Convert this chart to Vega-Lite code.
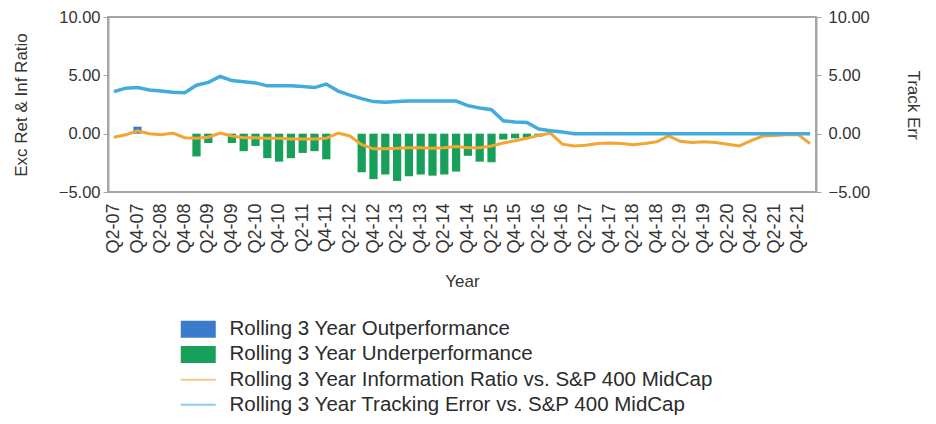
{
  "$schema": "https://vega.github.io/schema/vega-lite/v6.json",
  "width": 708,
  "height": 175,
  "autosize": {"type": "none"},
  "padding": {"left": 108, "top": 17, "right": 120, "bottom": 232},
  "background": "white",
  "config": {
    "font": "Liberation Sans",
    "view": {"stroke": "#a6a6a6", "strokeWidth": 2},
    "axis": {
      "grid": false,
      "domainColor": "#a6a6a6",
      "domainWidth": 2,
      "tickColor": "#a6a6a6",
      "labelColor": "#333333",
      "titleColor": "#333333",
      "titleFontWeight": "normal"
    },
    "legend": {
      "orient": "none",
      "legendX": 80,
      "legendY": 302,
      "padding": 0,
      "title": null,
      "labelFontSize": 20.5,
      "labelColor": "#2b2b2b",
      "labelLimit": 0,
      "symbolSize": 400,
      "labelOffset": 21,
      "rowPadding": 4.2
    }
  },
  "datasets": {
    "bars": [
      {"q": "Q4-07", "s": "Rolling 3 Year Outperformance", "v": 0.6},
      {"q": "Q1-09", "s": "Rolling 3 Year Underperformance", "v": -1.95},
      {"q": "Q2-09", "s": "Rolling 3 Year Underperformance", "v": -0.8},
      {"q": "Q4-09", "s": "Rolling 3 Year Underperformance", "v": -0.8},
      {"q": "Q1-10", "s": "Rolling 3 Year Underperformance", "v": -1.5},
      {"q": "Q2-10", "s": "Rolling 3 Year Underperformance", "v": -1.05},
      {"q": "Q3-10", "s": "Rolling 3 Year Underperformance", "v": -2.1},
      {"q": "Q4-10", "s": "Rolling 3 Year Underperformance", "v": -2.4},
      {"q": "Q1-11", "s": "Rolling 3 Year Underperformance", "v": -2.1},
      {"q": "Q2-11", "s": "Rolling 3 Year Underperformance", "v": -1.65},
      {"q": "Q3-11", "s": "Rolling 3 Year Underperformance", "v": -1.5},
      {"q": "Q4-11", "s": "Rolling 3 Year Underperformance", "v": -2.2},
      {"q": "Q3-12", "s": "Rolling 3 Year Underperformance", "v": -3.3},
      {"q": "Q4-12", "s": "Rolling 3 Year Underperformance", "v": -3.9},
      {"q": "Q1-13", "s": "Rolling 3 Year Underperformance", "v": -3.5},
      {"q": "Q2-13", "s": "Rolling 3 Year Underperformance", "v": -4.05},
      {"q": "Q3-13", "s": "Rolling 3 Year Underperformance", "v": -3.65},
      {"q": "Q4-13", "s": "Rolling 3 Year Underperformance", "v": -3.5},
      {"q": "Q1-14", "s": "Rolling 3 Year Underperformance", "v": -3.6},
      {"q": "Q2-14", "s": "Rolling 3 Year Underperformance", "v": -3.5},
      {"q": "Q3-14", "s": "Rolling 3 Year Underperformance", "v": -3.25},
      {"q": "Q4-14", "s": "Rolling 3 Year Underperformance", "v": -1.9},
      {"q": "Q1-15", "s": "Rolling 3 Year Underperformance", "v": -2.4},
      {"q": "Q2-15", "s": "Rolling 3 Year Underperformance", "v": -2.45},
      {"q": "Q3-15", "s": "Rolling 3 Year Underperformance", "v": -0.5},
      {"q": "Q4-15", "s": "Rolling 3 Year Underperformance", "v": -0.4},
      {"q": "Q1-16", "s": "Rolling 3 Year Underperformance", "v": -0.35},
      {"q": "Q2-16", "s": "Rolling 3 Year Underperformance", "v": -0.25}
    ],
    "lines": [
      {"q": "Q2-07", "ir": -0.3, "te": 3.6},
      {"q": "Q3-07", "ir": -0.1, "te": 3.9},
      {"q": "Q4-07", "ir": 0.25, "te": 3.95},
      {"q": "Q1-08", "ir": 0.0, "te": 3.75},
      {"q": "Q2-08", "ir": -0.1, "te": 3.65},
      {"q": "Q3-08", "ir": 0.05, "te": 3.55},
      {"q": "Q4-08", "ir": -0.35, "te": 3.5},
      {"q": "Q1-09", "ir": -0.4, "te": 4.15},
      {"q": "Q2-09", "ir": -0.3, "te": 4.4},
      {"q": "Q3-09", "ir": 0.05, "te": 4.9},
      {"q": "Q4-09", "ir": -0.2, "te": 4.55},
      {"q": "Q1-10", "ir": -0.35, "te": 4.45},
      {"q": "Q2-10", "ir": -0.35, "te": 4.35},
      {"q": "Q3-10", "ir": -0.4, "te": 4.1},
      {"q": "Q4-10", "ir": -0.4, "te": 4.1},
      {"q": "Q1-11", "ir": -0.45, "te": 4.1},
      {"q": "Q2-11", "ir": -0.45, "te": 4.05},
      {"q": "Q3-11", "ir": -0.45, "te": 3.95},
      {"q": "Q4-11", "ir": -0.4, "te": 4.25},
      {"q": "Q1-12", "ir": 0.05, "te": 3.65},
      {"q": "Q2-12", "ir": -0.2, "te": 3.3},
      {"q": "Q3-12", "ir": -0.95, "te": 3.0},
      {"q": "Q4-12", "ir": -1.3, "te": 2.75},
      {"q": "Q1-13", "ir": -1.3, "te": 2.7},
      {"q": "Q2-13", "ir": -1.25, "te": 2.75},
      {"q": "Q3-13", "ir": -1.2, "te": 2.8},
      {"q": "Q4-13", "ir": -1.2, "te": 2.8},
      {"q": "Q1-14", "ir": -1.25, "te": 2.8},
      {"q": "Q2-14", "ir": -1.2, "te": 2.8},
      {"q": "Q3-14", "ir": -1.1, "te": 2.8},
      {"q": "Q4-14", "ir": -1.2, "te": 2.4},
      {"q": "Q1-15", "ir": -1.2, "te": 2.2},
      {"q": "Q2-15", "ir": -1.05, "te": 2.05},
      {"q": "Q3-15", "ir": -0.8, "te": 1.1},
      {"q": "Q4-15", "ir": -0.6, "te": 1.0},
      {"q": "Q1-16", "ir": -0.4, "te": 0.95},
      {"q": "Q2-16", "ir": -0.15, "te": 0.4},
      {"q": "Q3-16", "ir": 0.05, "te": 0.25},
      {"q": "Q4-16", "ir": -0.9, "te": 0.15},
      {"q": "Q1-17", "ir": -1.05, "te": 0.0},
      {"q": "Q2-17", "ir": -1.0, "te": 0.0},
      {"q": "Q3-17", "ir": -0.85, "te": 0.0},
      {"q": "Q4-17", "ir": -0.8, "te": 0.0},
      {"q": "Q1-18", "ir": -0.85, "te": 0.0},
      {"q": "Q2-18", "ir": -0.95, "te": 0.0},
      {"q": "Q3-18", "ir": -0.85, "te": 0.0},
      {"q": "Q4-18", "ir": -0.7, "te": 0.0},
      {"q": "Q1-19", "ir": -0.2, "te": 0.0},
      {"q": "Q2-19", "ir": -0.65, "te": 0.0},
      {"q": "Q3-19", "ir": -0.75, "te": 0.0},
      {"q": "Q4-19", "ir": -0.7, "te": 0.0},
      {"q": "Q1-20", "ir": -0.75, "te": 0.0},
      {"q": "Q2-20", "ir": -0.9, "te": 0.0},
      {"q": "Q3-20", "ir": -1.05, "te": 0.0},
      {"q": "Q4-20", "ir": -0.6, "te": 0.0},
      {"q": "Q1-21", "ir": -0.2, "te": 0.0},
      {"q": "Q2-21", "ir": -0.15, "te": 0.0},
      {"q": "Q3-21", "ir": -0.1, "te": 0.0},
      {"q": "Q4-21", "ir": -0.1, "te": 0.0},
      {"q": "Q1-22", "ir": -0.85, "te": 0.0}
    ]
  },
  "layer": [
    {
      "layer": [
        {
          "data": {"name": "bars"},
          "mark": {"type": "bar"},
          "encoding": {
            "x": {
              "field": "q",
              "type": "ordinal",
              "sort": null,
              "scale": {
                "domain": ["Q2-07","Q3-07","Q4-07","Q1-08","Q2-08","Q3-08","Q4-08","Q1-09","Q2-09","Q3-09","Q4-09","Q1-10","Q2-10","Q3-10","Q4-10","Q1-11","Q2-11","Q3-11","Q4-11","Q1-12","Q2-12","Q3-12","Q4-12","Q1-13","Q2-13","Q3-13","Q4-13","Q1-14","Q2-14","Q3-14","Q4-14","Q1-15","Q2-15","Q3-15","Q4-15","Q1-16","Q2-16","Q3-16","Q4-16","Q1-17","Q2-17","Q3-17","Q4-17","Q1-18","Q2-18","Q3-18","Q4-18","Q1-19","Q2-19","Q3-19","Q4-19","Q1-20","Q2-20","Q3-20","Q4-20","Q1-21","Q2-21","Q3-21","Q4-21","Q1-22"],
                "paddingInner": 0.3,
                "paddingOuter": 0.15
              },
              "axis": {
                "title": "Year",
                "values": ["Q2-07","Q4-07","Q2-08","Q4-08","Q2-09","Q4-09","Q2-10","Q4-10","Q2-11","Q4-11","Q2-12","Q4-12","Q2-13","Q4-13","Q2-14","Q4-14","Q2-15","Q4-15","Q2-16","Q4-16","Q2-17","Q4-17","Q2-18","Q4-18","Q2-19","Q4-19","Q2-20","Q4-20","Q2-21","Q4-21"],
                "labelAngle": -90,
                "labelAlign": "right",
                "labelBaseline": "middle",
                "labelFontSize": 18,
                "labelPadding": 11,
                "ticks": false,
                "domain": false,
                "titleFontSize": 17,
                "titlePadding": 20
              }
            },
            "y": {
              "field": "v",
              "type": "quantitative",
              "scale": {"domain": [-5, 10], "nice": false, "zero": false},
              "axis": {
                "title": "Exc Ret & Inf Ratio",
                "values": [-5, 0, 5, 10],
                "format": ".2f",
                "labelFontSize": 16.5,
                "titleFontSize": 17,
                "tickSize": 5,
                "labelPadding": 3,
                "titlePadding": 28
              }
            },
            "color": {
              "field": "s",
              "type": "nominal",
              "scale": {
                "domain": ["Rolling 3 Year Outperformance", "Rolling 3 Year Underperformance", "Rolling 3 Year Information Ratio vs. S&P 400 MidCap", "Rolling 3 Year Tracking Error vs. S&P 400 MidCap"],
                "range": ["#3a7bcc", "#17a05a", "#f3a534", "#42abdc"]
              },
              "legend": {
                "encode": {
                  "symbols": {
                    "update": {
                      "shape": {"signal": "indexof(['Rolling 3 Year Outperformance','Rolling 3 Year Underperformance'], datum.value) >= 0 ? 'M-1.75,-0.85H1.75V0.85H-1.75Z' : 'M-1.75,0H1.75'"},
                      "fill": {"signal": "indexof(['Rolling 3 Year Outperformance','Rolling 3 Year Underperformance'], datum.value) >= 0 ? scale('color', datum.value) : 'transparent'"},
                      "stroke": {"signal": "scale('color', datum.value)"},
                      "strokeWidth": {"signal": "indexof(['Rolling 3 Year Outperformance','Rolling 3 Year Underperformance'], datum.value) >= 0 ? 0 : 2"},
                      "opacity": {"signal": "indexof(['Rolling 3 Year Outperformance','Rolling 3 Year Underperformance'], datum.value) >= 0 ? 1 : 0.6"}
                    }
                  }
                }
              }
            }
          }
        },
        {
          "data": {"name": "lines"},
          "mark": {"type": "line", "strokeWidth": 3},
          "encoding": {
            "x": {"field": "q", "type": "ordinal", "sort": null},
            "y": {"field": "ir", "type": "quantitative"},
            "color": {"datum": "Rolling 3 Year Information Ratio vs. S&P 400 MidCap", "type": "nominal"}
          }
        }
      ]
    },
    {
      "data": {"name": "lines"},
      "mark": {"type": "line", "strokeWidth": 3.5},
      "encoding": {
        "x": {"field": "q", "type": "ordinal", "sort": null},
        "y": {
          "field": "te",
          "type": "quantitative",
          "scale": {"domain": [-5, 10], "nice": false, "zero": false},
          "axis": {
            "orient": "right",
            "title": "Track Err",
            "titleAngle": 90,
            "values": [-5, 0, 5, 10],
            "format": ".2f",
            "labelFontSize": 16.5,
            "titleFontSize": 17,
            "tickSize": 5,
            "labelPadding": 7,
            "titlePadding": 34
          }
        },
        "color": {"datum": "Rolling 3 Year Tracking Error vs. S&P 400 MidCap", "type": "nominal"}
      }
    }
  ],
  "resolve": {"scale": {"y": "independent"}}
}
